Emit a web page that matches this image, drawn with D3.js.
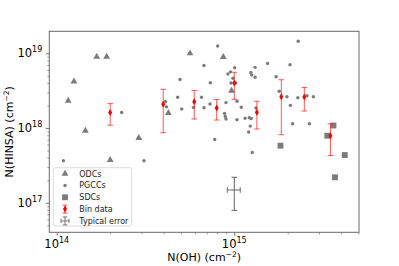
<!DOCTYPE html>
<html lang="en">
<head>
<meta charset="UTF-8">
<title>N(HINSA) vs N(OH)</title>
<script src="https://d3js.org/d3.v7.min.js"></script>
<style>
  body { margin: 0; background: #fff; }
  svg { font-family: "DejaVu Sans", sans-serif; }
</style>
</head>
<body>
<div id="chart"></div>
<script>
// ODCs (triangles)
var odcOH    = [1.16e14, 1.25e14, 1.68e14, 1.91e14, 1.45e14, 2.0e14, 2.9e14, 4.25e14, 5.63e14, 8.67e14, 9.64e14];
var odcHINSA = [2.32e18, 4.19e18, 9.0e18, 9.0e18, 9.2e17, 3.73e17, 7.35e17, 1.59e18, 1.0e19, 8.92e18, 3.16e18];

// PGCCs (dots)
var pgccOH = [1.09e14, 2.32e14, 3.10e14, 4.10e14, 4.15e14, 4.95e14, 4.80e14, 5.06e14, 5.89e14, 6.54e14,
  6.75e14, 6.75e14, 7.33e14, 7.30e14, 8.06e14, 7.76e14, 8.98e14, 8.81e14, 8.90e14, 8.98e14,
  9.21e14, 9.52e14, 1.005e15, 9.83e14, 9.58e14, 1.02e15, 1.036e15, 1.095e15, 1.036e15, 1.15e15,
  1.215e15, 1.246e15, 1.23e15, 1.205e15, 1.263e15, 1.325e15, 1.24e15, 1.253e15, 1.31e15, 1.31e15,
  1.54e15, 1.72e15, 1.79e15, 1.98e15, 2.07e15, 2.06e15, 2.29e15, 2.28e15, 2.57e15, 2.79e15,
  2.13e15, 2.65e15];
var pgccHINSA = [3.65e17, 1.61e18, 3.65e17, 2.26e18, 1.92e18, 4.46e18, 2.58e18, 1.80e18, 1.89e18, 2.58e18,
  6.87e18, 1.87e18, 4.04e18, 2.10e18, 1.25e19, 7.02e17, 2.19e18, 1.57e18, 1.43e18, 1.32e18,
  5.28e18, 5.65e18, 6.42e18, 4.63e18, 4.0e18, 4.0e18, 2.28e18, 1.90e18, 1.29e18, 1.35e18,
  1.37e18, 1.34e18, 1.06e18, 8.84e17, 4.70e17, 1.85e18, 5.53e18, 5.12e18, 6.49e18, 4.79e18,
  7.30e18, 4.86e18, 3.11e18, 2.62e18, 2.01e18, 7.02e18, 1.45e19, 2.54e18, 2.70e18, 2.62e18,
  1.14e18, 1.14e18];

// SDCs (squares)
var sdcOH    = [1.82e15, 3.34e15, 3.62e15, 4.19e15, 3.69e15];
var sdcHINSA = [5.8e17, 7.89e17, 1.08e18, 4.35e17, 2.19e17];

// Bin data with error bars
var binOH    = [2.0e14, 3.98e14, 5.95e14, 7.96e14, 1.0e15, 1.34e15, 1.84e15, 2.48e15, 3.48e15];
var binHINSA = [1.61e18, 2.08e18, 2.24e18, 1.85e18, 4.0e18, 1.62e18, 2.62e18, 2.6e18, 7.89e17];
var binLow   = [1.09e18, 8.65e17, 1.32e18, 1.28e18, 2.42e18, 9.7e17, 8.13e17, 1.69e18, 4.28e17];
var binHigh  = [2.12e18, 3.30e18, 3.18e18, 2.41e18, 5.57e18, 2.28e18, 4.43e18, 3.48e18, 1.14e18];

// typical error: centre, x range, y range
var typOH = [1.0e15, 9.13e14, 1.08e15];
var typHINSA = [1.48e17, 7.9e16, 2.19e17];

var xLimits = [9.08e13, 5.04e15];
var yLimits = [4.02e16, 1.97e19];
var xMajor = [14, 15];
var yMajor = [17, 18, 19];
var legendLabels = ["ODCs", "PGCCs", "SDCs", "Bin data", "Typical error"];

var W = 399, H = 266;
var margin = {top: 31.3, left: 49.3, right: 40, bottom: 33.7};
var width = W - margin.left - margin.right,
    height = H - margin.top - margin.bottom;

var svg = d3.select("#chart").append("svg")
    .attr("width", W).attr("height", H);
var g = svg.append("g")
    .attr("transform", "translate(" + margin.left + "," + margin.top + ")");

var x = d3.scaleLog().domain(xLimits).range([0, width]);
var y = d3.scaleLog().domain(yLimits).range([height, 0]);

function minorTicks(lim) {
  var out = [];
  var lo = Math.floor(Math.log10(lim[0])), hi = Math.ceil(Math.log10(lim[1]));
  for (var e = lo; e <= hi; e++)
    for (var m = 2; m <= 9; m++) {
      var v = m * Math.pow(10, e);
      if (v >= lim[0] && v <= lim[1]) out.push(v);
    }
  return out;
}

var grey = "#7b7b7b";
var axisCol = "#555";

// minor ticks
g.append("g").attr("transform", "translate(0," + height + ")")
  .call(d3.axisBottom(x).tickValues(minorTicks(xLimits)).tickSize(2).tickFormat(""))
  .call(function(a) { a.select(".domain").remove(); a.selectAll("line").attr("stroke", axisCol).attr("stroke-width", 0.6); });
g.append("g")
  .call(d3.axisLeft(y).tickValues(minorTicks(yLimits)).tickSize(2).tickFormat(""))
  .call(function(a) { a.select(".domain").remove(); a.selectAll("line").attr("stroke", axisCol).attr("stroke-width", 0.6); });

// major ticks
var xAx = g.append("g").attr("transform", "translate(0," + height + ")")
  .call(d3.axisBottom(x).tickValues(xMajor.map(function(e) { return Math.pow(10, e); })).tickSize(3.5).tickFormat(""));
var yAx = g.append("g")
  .call(d3.axisLeft(y).tickValues(yMajor.map(function(e) { return Math.pow(10, e); })).tickSize(3.5).tickFormat(""));
[xAx, yAx].forEach(function(a) {
  a.select(".domain").remove();
  a.selectAll("line").attr("stroke", axisCol).attr("stroke-width", 0.8);
});

// tick labels with superscripts
xMajor.forEach(function(e) {
  var t = g.append("text").attr("x", x(Math.pow(10, e))).attr("y", height + 16)
    .attr("text-anchor", "middle").attr("font-size", 11.5).attr("fill", "#000");
  t.append("tspan").text("10");
  t.append("tspan").attr("dy", -5).attr("font-size", 8).text(e);
});
yMajor.forEach(function(e) {
  var t = g.append("text").attr("x", -7).attr("y", y(Math.pow(10, e)) + 4)
    .attr("text-anchor", "end").attr("font-size", 11.5).attr("fill", "#000");
  t.append("tspan").text("10");
  t.append("tspan").attr("dy", -5).attr("font-size", 8).text(e);
});

// frame
g.append("rect").attr("width", width).attr("height", height)
  .attr("fill", "none").attr("stroke", "#6a6a6a").attr("stroke-width", 1);

// axis titles
var xl = svg.append("text").attr("x", margin.left + width / 2).attr("y", 261)
  .attr("text-anchor", "middle").attr("font-size", 11);
xl.append("tspan").text("N(OH) (cm");
xl.append("tspan").attr("dy", -4).attr("font-size", 7.5).text("\u22122");
xl.append("tspan").attr("dy", 4).text(")");

var yl = svg.append("text").attr("transform", "translate(13," + (margin.top + height / 2) + ") rotate(-90)")
  .attr("text-anchor", "middle").attr("font-size", 11);
yl.append("tspan").text("N(HINSA) (cm");
yl.append("tspan").attr("dy", -4).attr("font-size", 7.5).text("\u22122");
yl.append("tspan").attr("dy", 4).text(")");

var tri = d3.symbol().type(d3.symbolTriangle).size(20);
var sq = d3.symbol().type(d3.symbolSquare).size(34);
var dia = d3.symbol().type(d3.symbolDiamond).size(14);

// ODCs
g.append("g").selectAll("path").data(odcOH).join("path")
  .attr("d", tri)
  .attr("transform", function(d, i) { return "translate(" + x(d) + "," + y(odcHINSA[i]) + ")"; })
  .attr("fill", grey);

// PGCCs
g.append("g").selectAll("circle").data(pgccOH).join("circle")
  .attr("cx", function(d) { return x(d); })
  .attr("cy", function(d, i) { return y(pgccHINSA[i]); })
  .attr("r", 1.7).attr("fill", grey);

// SDCs
g.append("g").selectAll("path").data(sdcOH).join("path")
  .attr("d", sq)
  .attr("transform", function(d, i) { return "translate(" + x(d) + "," + y(sdcHINSA[i]) + ")"; })
  .attr("fill", grey);

// bin data error bars
var cap = 2.8;
var bins = g.append("g").selectAll("g").data(binOH).join("g")
  .attr("stroke", "red").attr("stroke-opacity", 0.65).attr("stroke-width", 1);
bins.append("line")
  .attr("x1", function(d) { return x(d); }).attr("x2", function(d) { return x(d); })
  .attr("y1", function(d, i) { return y(binLow[i]); }).attr("y2", function(d, i) { return y(binHigh[i]); });
bins.append("line")
  .attr("x1", function(d) { return x(d) - cap; }).attr("x2", function(d) { return x(d) + cap; })
  .attr("y1", function(d, i) { return y(binLow[i]); }).attr("y2", function(d, i) { return y(binLow[i]); });
bins.append("line")
  .attr("x1", function(d) { return x(d) - cap; }).attr("x2", function(d) { return x(d) + cap; })
  .attr("y1", function(d, i) { return y(binHigh[i]); }).attr("y2", function(d, i) { return y(binHigh[i]); });
g.append("g").selectAll("path").data(binOH).join("path")
  .attr("d", dia)
  .attr("transform", function(d, i) { return "translate(" + x(d) + "," + y(binHINSA[i]) + ")"; })
  .attr("fill", "red");

// typical error cross
var te = g.append("g").attr("stroke", "#666").attr("stroke-width", 1);
var tx = x(typOH[0]), ty = y(typHINSA[0]);
te.append("line").attr("x1", tx).attr("x2", tx).attr("y1", y(typHINSA[1])).attr("y2", y(typHINSA[2]));
te.append("line").attr("x1", x(typOH[1])).attr("x2", x(typOH[2])).attr("y1", ty).attr("y2", ty);
[typHINSA[1], typHINSA[2]].forEach(function(v) {
  te.append("line").attr("x1", tx - cap).attr("x2", tx + cap).attr("y1", y(v)).attr("y2", y(v));
});
[typOH[1], typOH[2]].forEach(function(v) {
  te.append("line").attr("x1", x(v)).attr("x2", x(v)).attr("y1", ty - cap).attr("y2", ty + cap);
});

// legend
var lg = svg.append("g").attr("transform", "translate(53.3,167.7)");
lg.append("rect").attr("width", 78.4).attr("height", 58.3).attr("rx", 2)
  .attr("fill", "#fff").attr("fill-opacity", 0.8).attr("stroke", "#d3d3d3").attr("stroke-width", 0.8);
legendLabels.forEach(function(lab, i) {
  var cy = 6 + i * 11.8, cx = 11.7;
  var row = lg.append("g");
  if (i === 0) row.append("path").attr("d", tri).attr("transform", "translate(" + cx + "," + cy + ")").attr("fill", grey);
  if (i === 1) row.append("circle").attr("cx", cx).attr("cy", cy).attr("r", 1.7).attr("fill", grey);
  if (i === 2) row.append("path").attr("d", sq).attr("transform", "translate(" + cx + "," + cy + ")").attr("fill", grey);
  if (i === 3) {
    row.append("line").attr("x1", cx).attr("x2", cx).attr("y1", cy - 4).attr("y2", cy + 4).attr("stroke", "red").attr("stroke-opacity", 0.65);
    row.append("line").attr("x1", cx - 2.5).attr("x2", cx + 2.5).attr("y1", cy - 4).attr("y2", cy - 4).attr("stroke", "red").attr("stroke-opacity", 0.65);
    row.append("line").attr("x1", cx - 2.5).attr("x2", cx + 2.5).attr("y1", cy + 4).attr("y2", cy + 4).attr("stroke", "red").attr("stroke-opacity", 0.65);
    row.append("path").attr("d", dia).attr("transform", "translate(" + cx + "," + cy + ")").attr("fill", "red");
  }
  if (i === 4) {
    var s = row.append("g").attr("stroke", "#666").attr("stroke-width", 0.9);
    s.append("line").attr("x1", cx).attr("x2", cx).attr("y1", cy - 4).attr("y2", cy + 4);
    s.append("line").attr("x1", cx - 4).attr("x2", cx + 4).attr("y1", cy).attr("y2", cy);
    s.append("line").attr("x1", cx - 2.2).attr("x2", cx + 2.2).attr("y1", cy - 4).attr("y2", cy - 4);
    s.append("line").attr("x1", cx - 2.2).attr("x2", cx + 2.2).attr("y1", cy + 4).attr("y2", cy + 4);
    s.append("line").attr("x1", cx - 4).attr("x2", cx - 4).attr("y1", cy - 2.2).attr("y2", cy + 2.2);
    s.append("line").attr("x1", cx + 4).attr("x2", cx + 4).attr("y1", cy - 2.2).attr("y2", cy + 2.2);
  }
  row.append("text").attr("x", 26).attr("y", cy + 3).attr("font-size", 8).attr("fill", "#222").text(lab);
});
</script>
</body>
</html>
